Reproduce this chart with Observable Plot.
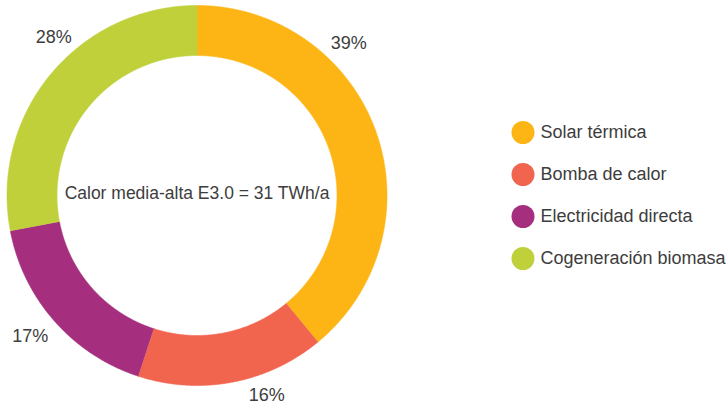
<!DOCTYPE html>
<html>
<head>
<meta charset="utf-8">
<script src="https://cdn.jsdelivr.net/npm/d3@7"></script>
<script src="https://cdn.jsdelivr.net/npm/@observablehq/plot@0.6"></script>
<style>
  html, body { margin: 0; padding: 0; background: #fff; }
  #chart { position: relative; width: 727px; height: 407px; }
  #legend { position: absolute; left: 500px; top: 110px; }
  #chart svg { display: block; }
</style>
</head>
<body>
<div id="chart"><div id="donut"></div><div id="legend"></div></div>
<script>
// ---- data ----
const categories = ["Solar térmica", "Bomba de calor", "Electricidad directa", "Cogeneración biomasa"];
const shares = [39, 16, 17, 28];
const shareLabels = ["39%", "16%", "17%", "28%"];
const colors = ["#FDB515", "#F1654F", "#A52F7E", "#BFD03B"];
const centerLabel = "Calor media-alta E3.0 = 31 TWh/a";

// ---- layout constants (not data) ----
const innerRatio = 140 / 190;
const labelAngleDeg = [45, 160.8, 229.9, 317.9];
const labelRadius = [1.13, 1.115, 1.147, 1.124];
const font = "'Liberation Sans', Arial, Helvetica, sans-serif";
const textColor = "#3d3d3d";

const slices = d3.pie().sort(null).value(d => d).startAngle(0).endAngle(2 * Math.PI)(shares);

const ring = slices.flatMap((s, i) => {
  const n = Math.max(4, Math.ceil((s.endAngle - s.startAngle) / 0.005));
  const pts = [];
  for (let k = 0; k <= n; k++) {
    const a = s.startAngle + (s.endAngle - s.startAngle) * k / n;
    pts.push({key: categories[i], x: Math.sin(a), y: Math.cos(a)});
  }
  for (let k = n; k >= 0; k--) {
    const a = s.startAngle + (s.endAngle - s.startAngle) * k / n;
    pts.push({key: categories[i], x: innerRatio * Math.sin(a), y: innerRatio * Math.cos(a)});
  }
  return pts;
});

const labels = shareLabels.map((t, i) => {
  const a = labelAngleDeg[i] * Math.PI / 180;
  return {text: t, x: labelRadius[i] * Math.sin(a), y: labelRadius[i] * Math.cos(a)};
});

const colorScale = {domain: categories, range: colors};

const donut = Plot.plot({
  width: 727,
  height: 407,
  margin: 0,
  style: {fontFamily: font, background: "#fff"},
  x: {domain: [-1, 1], range: [6.5, 386.5], axis: null},
  y: {domain: [-1, 1], range: [385, 5], axis: null},
  color: colorScale,
  marks: [
    Plot.line(ring, {x: "x", y: "y", z: "key", fill: "key", stroke: "key", strokeWidth: 0.6, curve: "linear"}),
    Plot.text(labels, {x: "x", y: "y", text: "text", fontSize: 18, fill: textColor}),
    Plot.text([{x: 0, y: 0, text: centerLabel}], {x: "x", y: "y", text: "text", fontSize: 17.5, fill: textColor, dy: -2})
  ]
});
document.getElementById("donut").appendChild(donut);

const legend = Plot.plot({
  width: 227,
  height: 172,
  margin: 0,
  style: {fontFamily: font, background: "transparent"},
  y: {type: "point", domain: categories, range: [21.5, 149], padding: 0, axis: null},
  color: colorScale,
  marks: [
    Plot.dot(categories, {y: d => d, frameAnchor: "left", dx: 22.5, r: 11.5, fill: d => d, stroke: null}),
    Plot.text(categories, {y: d => d, frameAnchor: "left", dx: 40, text: d => d, textAnchor: "start", fontSize: 18, fill: textColor})
  ]
});
document.getElementById("legend").appendChild(legend);
</script>
</body>
</html>
